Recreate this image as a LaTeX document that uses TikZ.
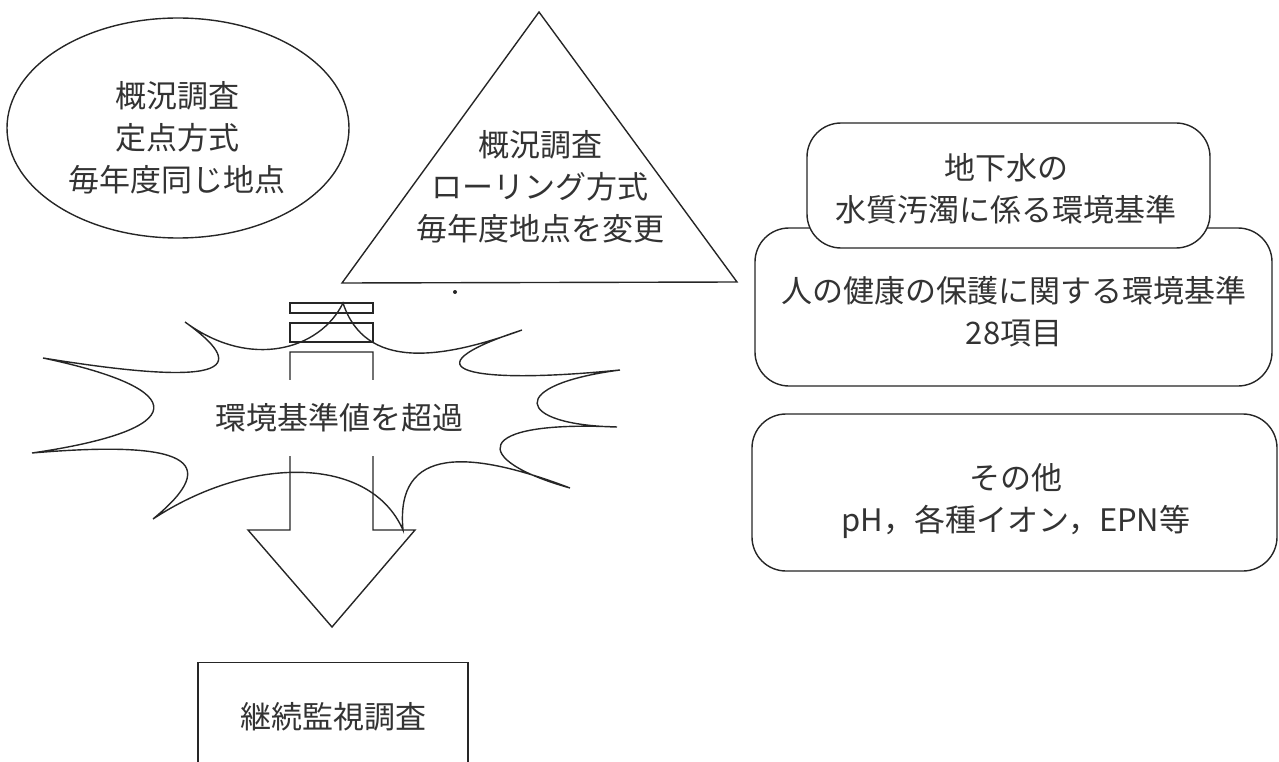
\documentclass[tikz,border=0pt]{standalone}
\usepackage{fontspec}
\setmainfont{Noto Sans CJK JP}
\usetikzlibrary{shapes.geometric}

\tikzset{
  outline/.style={draw=black!85, line width=1.4pt},
  label/.style={font=\fontsize{31}{42}\selectfont, text=black!80, align=center},
  roundbox/.style={outline, rounded corners=34pt, fill=white},
}

\begin{document}
\begin{tikzpicture}[x=1pt, y=-1pt]
  \useasboundingbox (0,0) rectangle (1279,762);

  % Left: fixed-point survey
  \node[outline, ellipse, minimum width=342pt, minimum height=220pt] (fixed) at (178,128) {};
  \node[label] (fixedtext) at (177,138) {概況調査\\定点方式\\毎年度同じ地点};

  % Middle: rolling survey
  \coordinate (apex) at (539,12);
  \coordinate (baseL) at (342,283);
  \coordinate (baseR) at (737,282);
  \draw[outline] (apex) -- (baseR) -- (baseL) -- cycle;
  \node[label] (rolling) at (540,187) {概況調査\\ローリング方式\\毎年度地点を変更};
  \fill[black!85] (455,292) circle (2pt);

  % Right: standards
  \node[roundbox, minimum width=517pt, minimum height=158pt] (health) at (1013.5,307) {};
  \node[label] (healthtext) at (1014,312) {人の健康の保護に関する環境基準\\28項目};
  \node[roundbox, minimum width=403pt, minimum height=125pt] (ground) at (1008.5,185.5) {};
  \node[label] (groundtext) at (1006,189) {地下水の\\水質汚濁に係る環境基準};
  \node[roundbox, minimum width=525pt, minimum height=157pt] (other) at (1014.5,492.5) {};
  \node[label] (othertext) at (1016,501) {その他\\pH，各種イオン，EPN等};

  % Burst
  \draw[outline] (343,303) .. controls (365,370) and (440,360) .. (522,330)
    .. controls (400,370) and (470,385) .. (620,370)
    .. controls (505,385) and (515,425) .. (617,427)
    .. controls (470,420) and (470,460) .. (570,488)
    .. controls (470,450) and (395,445) .. (403,530)
    .. controls (370,455) and (250,455) .. (153,519)
    .. controls (225,460) and (185,440) .. (32,453)
    .. controls (190,430) and (195,390) .. (43,358)
    .. controls (240,390) and (245,365) .. (185,322)
    .. controls (250,370) and (320,350) .. cycle;

  % Striped arrow
  \draw[outline] (290,303) rectangle (373,313);
  \draw[outline] (290,323) rectangle (373,342);
  \draw[outline] (290,352) -- (373,352) -- (373,530) -- (415,530)
    -- (332,627) -- (248,530) -- (290,530) -- cycle;
  \node[label, fill=white, minimum height=76pt, inner xsep=0pt] (exceed) at (339,418) {環境基準値を超過};

  % Bottom: follow-up survey
  \node[outline, minimum width=270pt, minimum height=160pt, anchor=north] (monitor) at (333,662) {};
  \node[label] (monitortext) at (333,717) {継続監視調査};
\end{tikzpicture}
\end{document}
